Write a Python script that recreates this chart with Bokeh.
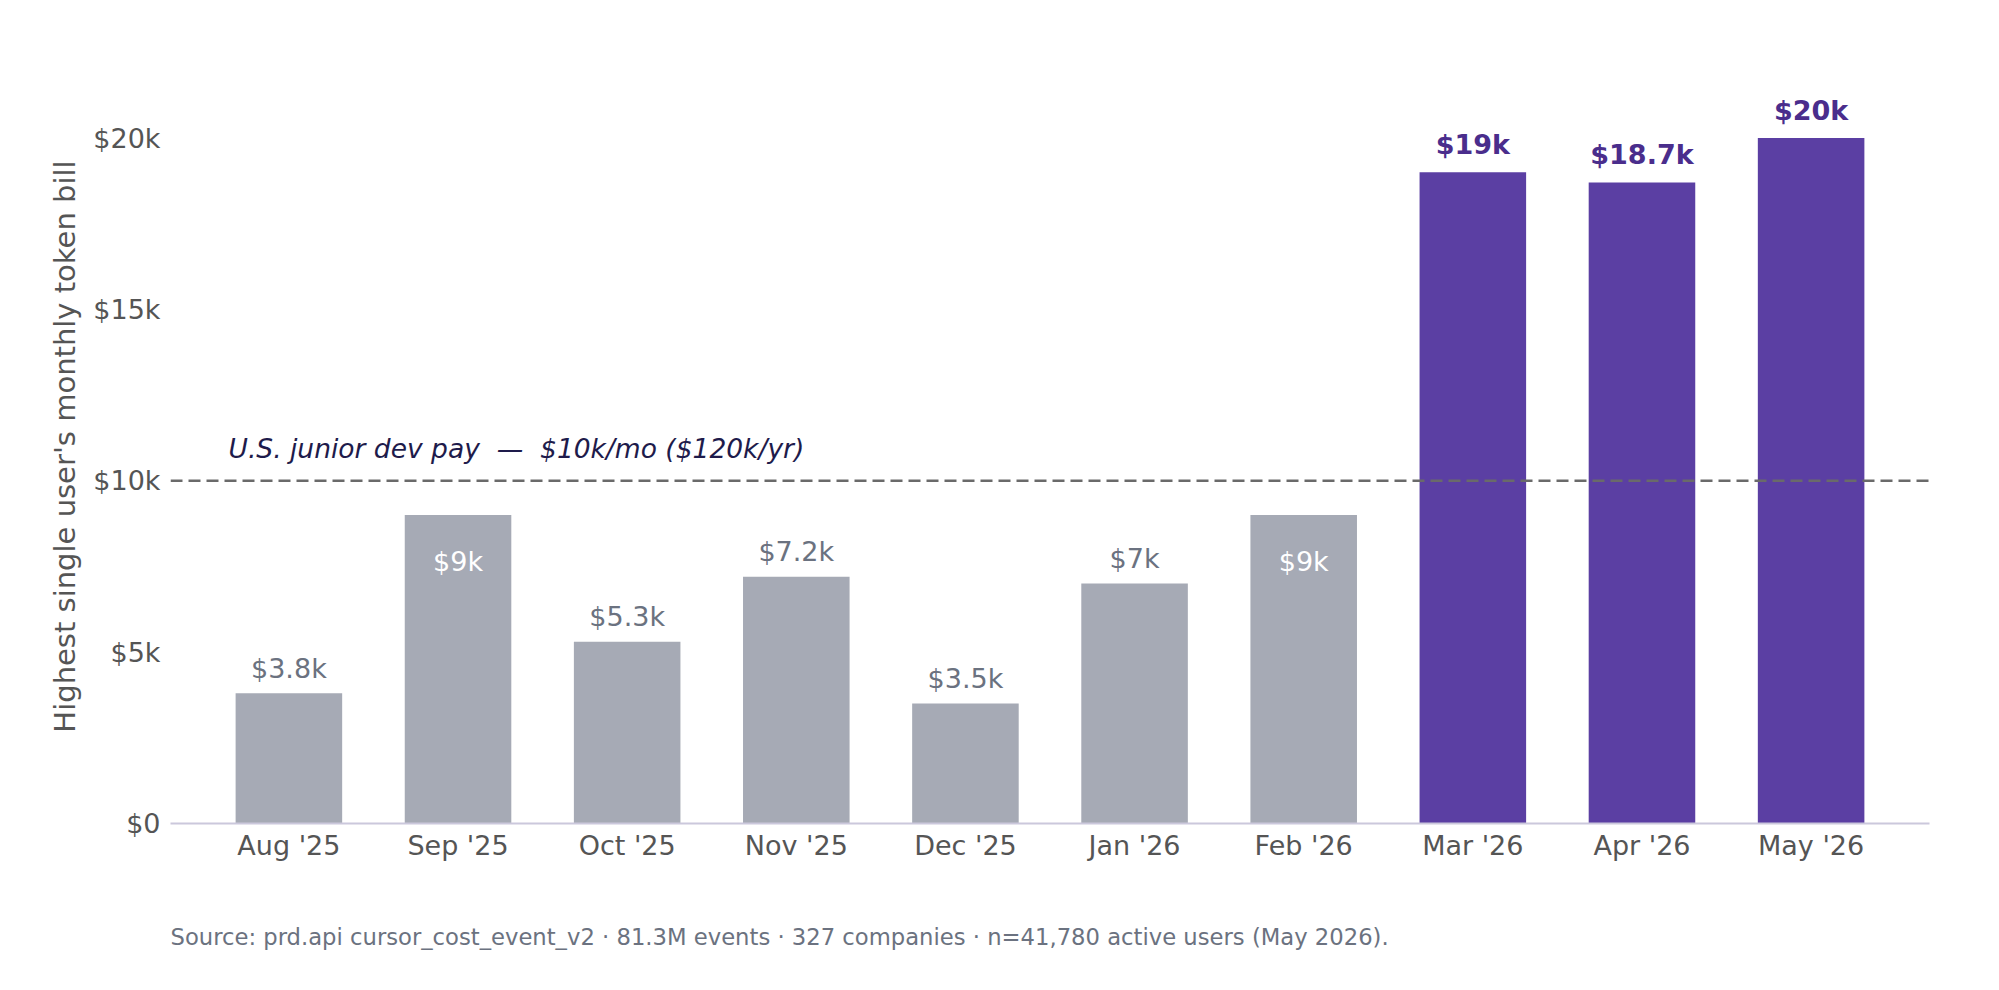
from bokeh.plotting import figure
from bokeh.models import ColumnDataSource, Span, Label, FixedTicker, Range1d, Title
from bokeh.embed import file_html
from bokeh.resources import INLINE
from bokeh.core.properties import value

# ---- data ----
months = ["Aug '25", "Sep '25", "Oct '25", "Nov '25", "Dec '25",
          "Jan '26", "Feb '26", "Mar '26", "Apr '26", "May '26"]
bills = [3800, 9000, 5300, 7200, 3500, 7000, 9000, 19000, 18700, 20000]
bar_labels = ["$3.8k", "$9k", "$5.3k", "$7.2k", "$3.5k",
              "$7k", "$9k", "$19k", "$18.7k", "$20k"]
highlight = [False, False, False, False, False, False, False, True, True, True]
label_inside = [False, True, False, False, False, False, True, False, False, False]
junior_pay = 10000
junior_text = "U.S. junior dev pay \u00a0\u2014\u00a0 $10k/mo ($120k/yr)"
y_ticks = [0, 5000, 10000, 15000, 20000]
y_tick_labels = ["$0", "$5k", "$10k", "$15k", "$20k"]
source_note = ("Source: prd.api cursor_cost_event_v2 \u00b7 81.3M events \u00b7 "
               "327 companies \u00b7 n=41,780 active users (May 2026).")

GREY = "#a6aab5"
PURPLE = "#5b3fa3"
PURPLE_TXT = "#4a2d8c"
GREY_TXT = "#6b7280"
TICK_TXT = "#555555"
FONT = "DejaVu Sans"

idx = list(range(len(months)))
src = ColumnDataSource(dict(
    x=idx, top=bills,
    color=[PURPLE if h else GREY for h in highlight],
))

p = figure(frame_width=1759, frame_height=754, output_backend="svg", toolbar_location=None,
           x_range=Range1d(-0.7, len(months) - 0.3), y_range=Range1d(0, 22000),
           min_border_left=170, min_border_right=70, min_border_top=69,
           min_border_bottom=150)
p.outline_line_color = None
p.xgrid.visible = False
p.ygrid.visible = False
p.background_fill_color = "white"
p.border_fill_color = "white"

p.vbar(x="x", top="top", width=0.63, bottom=0, fill_color="color",
       line_color=None, source=src)

# reference line
p.add_layout(Span(location=junior_pay, dimension="width", line_color="#6a6a6a",
                  line_dash="12 6", line_width=2.5))
p.add_layout(Label(x=-0.357, y=junior_pay + 950, text=junior_text,
                   text_font=FONT, text_font_size="26.5px", text_font_style="italic",
                   text_color="#1e1b4b", text_baseline="alphabetic", text_align="left"))

# bar labels
def sel(cond):
    return dict(x=[i for i in idx if cond(i)],
                y=[bills[i] for i in idx if cond(i)],
                t=[bar_labels[i] for i in idx if cond(i)])

g_out = sel(lambda i: not highlight[i] and not label_inside[i])
g_in = sel(lambda i: not highlight[i] and label_inside[i])
pur = sel(lambda i: highlight[i])

p.text(x="x", y="y", text="t", source=ColumnDataSource(g_out),
       text_font=value(FONT), text_font_size="27px", text_color=GREY_TXT,
       text_align="center", text_baseline="alphabetic", y_offset=-25)
p.text(x="x", y="y", text="t", source=ColumnDataSource(g_in),
       text_font=value(FONT), text_font_size="27px", text_color="white",
       text_align="center", text_baseline="alphabetic", y_offset=46)
p.text(x="x", y="y", text="t", source=ColumnDataSource(pur),
       text_font=value(FONT), text_font_size="27px", text_color=PURPLE_TXT,
       text_font_style="bold",
       text_align="center", text_baseline="alphabetic", y_offset=-28)

# axes
xa = p.xaxis[0]
xa.ticker = FixedTicker(ticks=idx)
xa.major_label_overrides = {i: m for i, m in zip(idx, months)}
xa.axis_line_color = "#cbc8dc"
xa.axis_line_width = 2
xa.major_tick_line_color = None
xa.minor_tick_line_color = None
xa.major_label_standoff = 0
xa.major_label_text_font = FONT
xa.major_label_text_font_size = "27px"
xa.major_label_text_color = TICK_TXT

ya = p.yaxis[0]
ya.ticker = FixedTicker(ticks=y_ticks)
ya.major_label_overrides = {t: l for t, l in zip(y_ticks, y_tick_labels)}
ya.axis_line_color = None
ya.major_tick_line_color = None
ya.minor_tick_line_color = None
ya.major_label_standoff = 4
ya.major_label_text_font = FONT
ya.major_label_text_font_size = "27px"
ya.major_label_text_color = TICK_TXT
ya.axis_label = "Highest single user's monthly token bill"
ya.axis_label_text_font = FONT
ya.axis_label_text_font_size = "29px"
ya.axis_label_text_font_style = "normal"
ya.axis_label_text_color = TICK_TXT
ya.axis_label_standoff = 8

# source note
p.add_layout(Title(text=source_note, align="left", text_font=FONT,
                   text_font_size="22.7px", text_font_style="normal",
                   text_color="#6b7280", standoff=116), "below")

open("out.html", "w").write(file_html(p, INLINE))
